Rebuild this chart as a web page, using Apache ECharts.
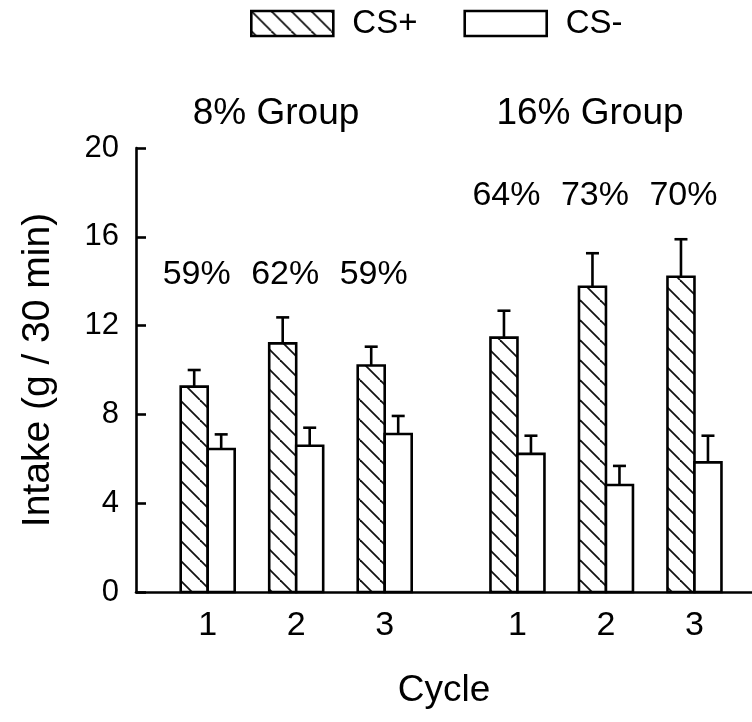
<!DOCTYPE html>
<html>
<head>
<meta charset="utf-8">
<script src="https://cdn.jsdelivr.net/npm/echarts@6/dist/echarts.min.js"></script>
<style>
  html, body { margin: 0; padding: 0; background: #fff; }
  #main { width: 752px; height: 722px; }
</style>
</head>
<body>
<div id="main"></div>
<script>
// 数据：两组（8% / 16%），每组 3 个周期
var cycleLabels = ['1', '2', '3', '1', '2', '3'];
var cyclePos = [1, 2, 3, 4.5, 5.5, 6.5];   // 横轴上的位置（两组之间留空）
var csPlus = [9.25, 11.2, 10.2, 11.46, 13.75, 14.2];
var csPlusErr = [0.75, 1.17, 0.85, 1.21, 1.51, 1.69];
var csMinus = [6.44, 6.59, 7.12, 6.22, 4.82, 5.84];
var csMinusErr = [0.66, 0.81, 0.81, 0.82, 0.86, 1.2];
var percentLabels = ['59%', '62%', '59%', '64%', '73%', '70%'];
var groupNames = ['8% Group', '16% Group'];

var FONT = '"Liberation Sans", Arial, sans-serif';
var BAR_W = 0.305;       // 柱宽（横轴单位）
var LINE_W = 2.6;

var myChart = echarts.init(document.getElementById('main'));

// 斜线填充图案
function makeHatch() {
    var c = document.createElement('canvas');
    c.width = 20;
    c.height = 20;
    var ctx = c.getContext('2d');
    ctx.fillStyle = '#fff';
    ctx.fillRect(0, 0, 20, 20);
    ctx.strokeStyle = '#111';
    ctx.lineWidth = 1.8;
    for (var k = -1; k <= 1; k++) {
        ctx.beginPath();
        ctx.moveTo(k * 20, 0);
        ctx.lineTo(k * 20 + 20, 20);
        ctx.stroke();
    }
    return { image: c, repeat: 'repeat' };
}
var hatch = makeHatch();

function buildData(means, errs) {
    return cyclePos.map(function (p, i) { return [p, means[i], errs[i]]; });
}

// side: -1 = 左侧柱 (CS+), 1 = 右侧柱 (CS-)
function barRenderer(side, fill) {
    return function (params, api) {
        var x = api.value(0), v = api.value(1), e = api.value(2);
        var w = api.size([BAR_W, 0])[0];
        var base = api.coord([x, 0]);
        var top = api.coord([x, v]);
        var errTop = api.coord([x, v + e]);
        var left = side < 0 ? base[0] - w : base[0];
        var cx = left + w / 2;
        return {
            type: 'group',
            children: [
                {
                    type: 'line',
                    shape: { x1: cx, y1: top[1], x2: cx, y2: errTop[1] },
                    style: { stroke: '#000', lineWidth: LINE_W }
                },
                {
                    type: 'line',
                    shape: { x1: cx - 6.5, y1: errTop[1], x2: cx + 6.5, y2: errTop[1] },
                    style: { stroke: '#000', lineWidth: LINE_W }
                },
                {
                    type: 'rect',
                    shape: { x: left, y: top[1], width: w, height: base[1] - top[1] },
                    style: { fill: fill, stroke: '#000', lineWidth: LINE_W }
                }
            ]
        };
    };
}

var pctLevel = [14.3, 17.85];  // 百分比文字所在高度（每组）

var option = {
    animation: false,
    textStyle: { fontFamily: FONT, color: '#000' },
    grid: { left: 136, right: 0, top: 148, bottom: 130 },
    legend: {
        left: 245,
        top: 2,
        itemWidth: 82,
        itemHeight: 25,
        itemGap: 46,
        textStyle: { fontSize: 33, color: '#000', fontFamily: FONT, padding: [0, 0, 0, 14] },
        data: [
            { name: 'CS+', icon: 'rect', itemStyle: { color: hatch, borderColor: '#000', borderWidth: LINE_W } },
            { name: 'CS-', icon: 'rect', itemStyle: { color: '#fff', borderColor: '#000', borderWidth: LINE_W } }
        ]
    },
    graphic: [
        { type: 'text', x: 276, y: 114, style: { text: groupNames[0], font: '37px ' + FONT, fill: '#000', textAlign: 'center', textVerticalAlign: 'middle' } },
        { type: 'text', x: 590, y: 114, style: { text: groupNames[1], font: '37px ' + FONT, fill: '#000', textAlign: 'center', textVerticalAlign: 'middle' } }
    ],
    xAxis: {
        type: 'value',
        min: 0.19,
        max: 7.15,
        name: 'Cycle',
        nameLocation: 'middle',
        nameGap: 80,
        nameTextStyle: { fontSize: 37, color: '#000', fontFamily: FONT },
        axisLine: { lineStyle: { color: '#000', width: LINE_W } },
        axisTick: { show: false },
        splitLine: { show: false },
        axisLabel: {
            customValues: cyclePos,
            fontSize: 34,
            color: '#000',
            margin: 17,
            formatter: function (v) {
                var i = cyclePos.indexOf(v);
                return i >= 0 ? cycleLabels[i] : '';
            }
        }
    },
    yAxis: {
        type: 'value',
        min: 0,
        max: 20,
        interval: 4,
        name: 'Intake (g / 30 min)',
        nameLocation: 'middle',
        nameGap: 78,
        nameTextStyle: { fontSize: 39, color: '#000', fontFamily: FONT },
        axisLine: { show: true, lineStyle: { color: '#000', width: LINE_W } },
        axisTick: { show: true, inside: true, length: 10, lineStyle: { color: '#000', width: LINE_W } },
        splitLine: { show: false },
        axisLabel: { fontSize: 31, color: '#000', margin: 17 }
    },
    series: [
        {
            name: 'CS+',
            type: 'custom',
            itemStyle: { color: hatch, borderColor: '#000' },
            renderItem: barRenderer(-1, hatch),
            encode: { x: 0, y: 1 },
            data: buildData(csPlus, csPlusErr)
        },
        {
            name: 'CS-',
            type: 'custom',
            itemStyle: { color: '#fff', borderColor: '#000' },
            renderItem: barRenderer(1, '#fff'),
            encode: { x: 0, y: 1 },
            data: buildData(csMinus, csMinusErr)
        },
        {
            name: 'percent',
            type: 'custom',
            renderItem: function (params, api) {
                var i = params.dataIndex;
                var pt = api.coord([api.value(0), pctLevel[i < 3 ? 0 : 1]]);
                return {
                    type: 'text',
                    x: pt[0] - 11,
                    y: pt[1],
                    style: { text: percentLabels[i], font: '34px ' + FONT, fill: '#000', textAlign: 'center', textVerticalAlign: 'middle' }
                };
            },
            encode: { x: 0, y: 1 },
            data: cyclePos.map(function (p, i) { return [p, 0]; })
        }
    ]
};

option && myChart.setOption(option);
</script>
</body>
</html>
